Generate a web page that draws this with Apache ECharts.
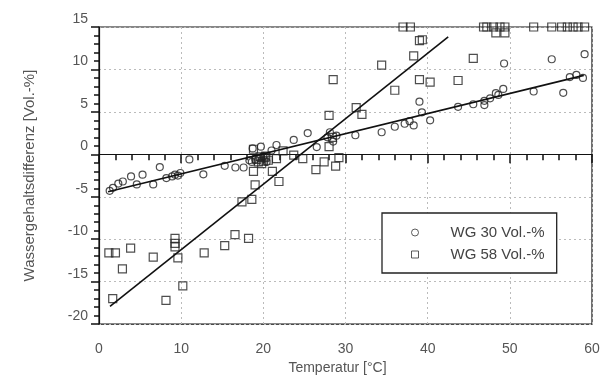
<!DOCTYPE html>
<html><head><meta charset="utf-8">
<script src="https://cdn.jsdelivr.net/npm/echarts@6/dist/echarts.min.js"></script>
<style>html,body{margin:0;padding:0;background:#fff}#c{width:605px;height:380px}</style>
</head><body><div id="c"></div>
<script>
// WG 30 Vol.-% (circles)
const wg30X = [1.3,1.7,2.35,2.9,3.9,4.6,5.3,6.6,7.4,8.2,8.9,9.25,9.6,9.9,11.0,12.7,15.3,16.6,17.6,18.3,18.6,18.7,19.0,19.5,19.7,20.0,20.4,21.0,21.6,23.7,25.4,26.5,27.8,28.1,28.5,28.9,31.2,34.4,36.0,37.2,37.8,38.3,39.0,39.3,40.3,43.7,45.55,46.9,46.9,47.6,48.3,48.6,49.2,49.3,52.9,55.1,56.5,57.3,58.1,58.9,59.1];
const wg30Y = [-4.3,-3.95,-3.45,-3.2,-2.6,-3.55,-2.4,-3.55,-1.5,-2.8,-2.6,-2.4,-2.5,-2.2,-0.6,-2.35,-1.35,-1.55,-1.55,-0.7,-0.9,0.7,-0.6,-0.4,0.9,-0.2,-0.9,0.45,1.1,1.7,2.5,0.85,2.0,2.6,1.5,2.2,2.25,2.6,3.25,3.6,3.9,3.4,6.2,4.95,4.0,5.6,5.9,5.8,6.3,6.6,7.2,7.0,7.7,10.7,7.4,11.2,7.25,9.1,9.35,9.0,11.8];
// WG 58 Vol.-% (squares)
const wg58X = [1.2,1.67,2.0,2.85,3.85,6.6,8.15,9.25,9.25,9.25,9.6,10.2,12.8,15.3,16.55,17.4,18.2,18.6,18.8,18.8,19.0,19.2,19.4,19.6,19.8,20.0,20.2,20.3,20.6,21.1,21.6,21.9,22.4,23.7,24.8,26.4,27.4,28.0,28.0,28.4,28.5,28.8,29.2,31.3,32.0,34.4,36.0,38.3,39.0,39.35,39.0,40.3,43.7,45.55,48.3,49.4,37.0,37.9,46.8,47.2,48.0,48.8,49.4,52.9,55.1,56.3,57.0,57.7,58.3,59.1];
const wg58Y = [-11.6,-17.0,-11.6,-13.5,-11.05,-12.1,-17.2,-9.9,-10.5,-10.9,-12.2,-15.5,-11.6,-10.75,-9.45,-5.6,-9.9,-5.3,-2.0,0.6,-3.6,-0.6,-0.9,-0.3,-1.1,-0.8,-0.4,-0.2,-0.7,-2.0,-0.5,-3.2,0.4,-0.1,-0.5,-1.8,-0.9,0.9,4.6,2.0,8.8,-1.4,-0.4,5.5,4.7,10.5,7.55,11.6,13.4,13.5,8.8,8.5,8.7,11.3,14.3,14.3,15,15,15,15,15,15,15,15,15,15,15,15,15,15];
// regression lines (end points)
const fit30X = [1.1, 59.0];
const fit30Y = [-4.4, 9.3];
const fit58X = [1.34, 42.5];
const fit58Y = [-17.9, 13.85];
// axis ranges / tick labels
const xTicks = [0,10,20,30,40,50,60];
const yTicks = [-20,-15,-10,-5,0,5,10,15];
const seriesNames = ['WG 30 Vol.-%','WG 58 Vol.-%'];

const zip = (a,b) => a.map((v,i) => [v,b[i]]);
const ff = 'Liberation Sans, Arial, sans-serif';
const chart = echarts.init(document.getElementById('c'), null, {renderer:'canvas'});
chart.setOption({
  animation:false,
  backgroundColor:'#fff',
  grid:{left:99,right:13,top:27,bottom:49,show:true,borderColor:'#111',borderWidth:1.2},
  xAxis:{type:'value',min:xTicks[0],max:xTicks[xTicks.length-1],interval:10,
    name:'Temperatur [°C]',nameLocation:'middle',nameGap:34,
    nameTextStyle:{fontFamily:ff,fontSize:14,color:'#555',padding:[0,16,0,0]},
    axisLine:{lineStyle:{color:'#111',width:1.2}},
    axisTick:{length:9,lineStyle:{color:'#111',width:1.5}},
    minorTick:{show:true,splitNumber:5,length:6,lineStyle:{color:'#111',width:1.5}},
    axisLabel:{margin:18,fontFamily:ff,fontSize:14,color:'#555'},
    splitLine:{show:true,lineStyle:{color:'#bbb',type:[2,3],width:1}}},
  yAxis:{type:'value',min:yTicks[0],max:yTicks[yTicks.length-1],interval:5,
    name:'Wassergehaltsdifferenz [Vol.-%]',nameLocation:'middle',nameGap:62,nameRotate:90,
    nameTextStyle:{fontFamily:ff,fontSize:15,color:'#555'},
    axisLine:{lineStyle:{color:'#111',width:1.2}},
    axisTick:{length:8,lineStyle:{color:'#111',width:1.5}},
    minorTick:{show:true,splitNumber:5,length:5,lineStyle:{color:'#111',width:1.5}},
    axisLabel:{margin:11,fontFamily:ff,fontSize:14,color:'#555',verticalAlign:'bottom',padding:[0,0,1,0]},
    splitLine:{show:true,lineStyle:{color:'#bbb',type:[2,3],width:1}}},
  legend:{orient:'vertical',left:382,top:213,padding:[12,12,11,29],
    itemWidth:7,itemHeight:7,itemGap:7,
    borderColor:'#222',borderWidth:1.3,backgroundColor:'#fff',
    itemStyle:{color:'#fff',borderColor:'#333',borderWidth:1},
    textStyle:{fontFamily:ff,fontSize:15,color:'#444',padding:[0,0,0,27]},
    data:[{name:seriesNames[0],icon:'circle'},{name:seriesNames[1],icon:'rect'}]},
  series:[
    {name:seriesNames[0],type:'scatter',symbol:'circle',symbolSize:7,clip:false,
      itemStyle:{color:'rgba(255,255,255,0)',borderColor:'#222',borderWidth:1.2},
      data:zip(wg30X,wg30Y)},
    {name:seriesNames[1],type:'scatter',symbol:'rect',symbolSize:8,clip:false,
      itemStyle:{color:'rgba(255,255,255,0)',borderColor:'#222',borderWidth:1.2},
      data:zip(wg58X,wg58Y)},
    {name:'fit30',type:'line',symbol:'none',silent:true,z:3,
      lineStyle:{color:'#111',width:1.6},data:zip(fit30X,fit30Y)},
    {name:'fit58',type:'line',symbol:'none',silent:true,z:3,
      lineStyle:{color:'#111',width:1.6},data:zip(fit58X,fit58Y)}
  ]
});
</script></body></html>
